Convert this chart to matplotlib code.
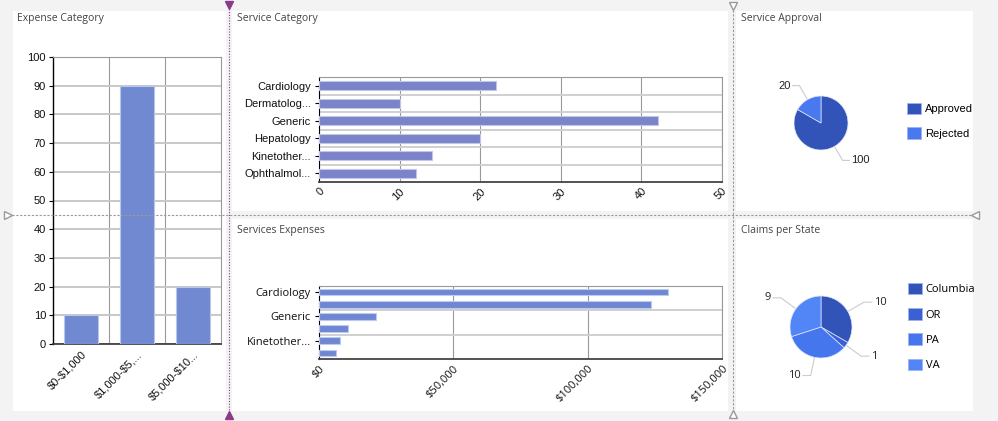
import matplotlib
matplotlib.use('Agg')
import matplotlib.pyplot as plt
from matplotlib.patches import Rectangle, Patch
from matplotlib.lines import Line2D
from matplotlib.ticker import FuncFormatter
import numpy as np

plt.rcParams['text.parse_math'] = False

# ---------------- data ----------------
expense_cats = ['$0-$1,000', '$1,000-$5,...', '$5,000-$10...']
expense_vals = [10, 90, 20]

service_cats = ['Cardiology', 'Dermatolog...', 'Generic', 'Hepatology', 'Kinetother...', 'Ophthalmol...']
service_vals = [22, 10, 42, 20, 14, 12]

spend_cats = ['Cardiology', 'Dermatolog...', 'Generic', 'Hepatology', 'Kinetother...', 'Ophthalmol...']
spend_vals = [130000, 123500, 21300, 10700, 7700, 6400]

approval_labels = ['Approved', 'Rejected']
approval_vals = [100, 20]
approval_colors = ['#3254b9', '#4a78ef']

state_labels = ['Columbia', 'OR', 'PA', 'VA']
state_vals = [10, 1, 10, 9]
state_colors = ['#3254b9', '#3a60d4', '#4676ee', '#5286f7']

W, H = 998, 421
SEGOE = ['Open Sans', 'DejaVu Sans']
ARIAL = ['Liberation Sans', 'DejaVu Sans']
FS = 8


def box(x0, y0, x1, y1):
    # pixel box (top-left origin) -> figure fraction
    return [x0 / W, 1 - y1 / H, (x1 - x0) / W, (y1 - y0) / H]


def fx(x):
    return x / W


def fy(y):
    return 1 - y / H


fig = plt.figure(figsize=(W / 100, H / 100), dpi=100, facecolor='#f3f3f3')

# panel backgrounds
for (x0, y0, x1, y1) in [(13, 11, 226, 411), (232, 11, 728, 211), (736, 11, 973, 211),
                         (232, 219, 728, 411), (736, 219, 973, 411)]:
    fig.add_artist(Rectangle((fx(x0), fy(y1)), (x1 - x0) / W, (y1 - y0) / H,
                             transform=fig.transFigure, facecolor='white', edgecolor='none', zorder=0))

# splitter lines
fig.add_artist(Line2D([fx(229), fx(229)], [fy(6), fy(414)], transform=fig.transFigure,
                      color='#8a3a8a', lw=0.8, ls=(0, (1, 1.5))))
fig.add_artist(Line2D([fx(733), fx(733)], [fy(6), fy(414)], transform=fig.transFigure,
                      color='#999999', lw=0.8, ls=(0, (2, 1.5))))
fig.add_artist(Line2D([fx(8), fx(975)], [fy(215), fy(215)], transform=fig.transFigure,
                      color='#999999', lw=0.8, ls=(0, (2, 1.5))))
fig.add_artist(Line2D([fx(229)], [fy(5)], transform=fig.transFigure, marker='v', ms=6,
                      color='#8a3a8a', lw=0))
fig.add_artist(Line2D([fx(229)], [fy(415)], transform=fig.transFigure, marker='^', ms=6,
                      color='#8a3a8a', lw=0))
fig.add_artist(Line2D([fx(733)], [fy(6)], transform=fig.transFigure, marker='v', ms=6,
                      mfc='white', mec='#999999', lw=0))
fig.add_artist(Line2D([fx(733)], [fy(414)], transform=fig.transFigure, marker='^', ms=6,
                      mfc='white', mec='#999999', lw=0))
fig.add_artist(Line2D([fx(8)], [fy(215)], transform=fig.transFigure, marker='>', ms=6,
                      mfc='white', mec='#999999', lw=0))
fig.add_artist(Line2D([fx(975)], [fy(215)], transform=fig.transFigure, marker='<', ms=6,
                      mfc='white', mec='#999999', lw=0))

# titles
for (x, y, t) in [(17, 19, 'Expense Category'), (237, 19, 'Service Category'),
                  (741, 19, 'Service Approval'), (237, 230, 'Services Expenses'),
                  (741, 230, 'Claims per State')]:
    fig.text(fx(x), fy(y), t, family=SEGOE, fontsize=7.5, color='#444444', va='center', ha='left')


def style_box(ax):
    for s in ['top', 'right']:
        ax.spines[s].set_color('#999999')
        ax.spines[s].set_linewidth(0.8)


# ---------------- Expense Category ----------------
ax1 = fig.add_axes(box(53, 57, 221, 344))
x = np.arange(len(expense_vals))
ax1.bar(x, expense_vals, width=0.6, color='#7189d0', edgecolor='#b9c5ea', lw=0.8, zorder=3)
ax1.set_xlim(-0.5, len(expense_vals) - 0.5)
ax1.set_ylim(0, 100)
ax1.set_yticks(range(0, 101, 10))
ax1.set_xticks(x)
ax1.set_xticklabels(expense_cats, rotation=45, ha='right', rotation_mode='anchor', family=ARIAL,
                    fontsize=FS, color='#111111')
ax1.set_xticks(x[:-1] + 0.5, minor=True)
ax1.grid(axis='y', which='major', color='#c8c8c8', lw=1.4, zorder=0)
ax1.grid(axis='x', which='minor', color='#999999', lw=0.8, zorder=0)
ax1.tick_params(axis='x', which='both', length=0, pad=4)
ax1.tick_params(axis='y', length=3, width=0.8, pad=2, labelsize=FS, labelcolor='#111111')
for lab in ax1.get_yticklabels():
    lab.set_family(ARIAL)
style_box(ax1)
ax1.spines['left'].set_linewidth(1.0)
ax1.spines['bottom'].set_linewidth(1.2)
ax1.spines['bottom'].set_color('#333333')

# ---------------- Service Category ----------------
ax2 = fig.add_axes(box(319, 77, 722, 182))
y = np.arange(len(service_vals))
ax2.barh(y, service_vals, height=0.5, color='#7b83c9', edgecolor='#c2c6ea', lw=0.8, zorder=3)
ax2.set_ylim(len(service_vals) - 0.5, -0.5)
ax2.set_xlim(0, 50)
ax2.set_yticks(y)
ax2.set_yticklabels(service_cats, family=ARIAL, fontsize=FS, color='#111111')
ax2.set_yticks(y[:-1] + 0.5, minor=True)
ax2.set_xticks(range(0, 51, 10))
ax2.set_xticklabels([str(v) for v in range(0, 51, 10)], rotation=45, ha='right',
                    rotation_mode='anchor', family=ARIAL, fontsize=FS, color='#111111')
ax2.grid(axis='y', which='minor', color='#d0d0d0', lw=1.4, zorder=0)
ax2.grid(axis='x', which='major', color='#999999', lw=0.8, zorder=0)
ax2.tick_params(axis='y', which='major', length=3, width=0.8, pad=3)
ax2.tick_params(axis='y', which='minor', length=0)
ax2.tick_params(axis='x', length=0, pad=3)
style_box(ax2)
ax2.spines['bottom'].set_linewidth(1.3)
ax2.spines['bottom'].set_color('#444444')

# ---------------- Services Expenses ----------------
ax4 = fig.add_axes(box(319, 286, 722, 359))
y4 = np.arange(len(spend_vals))
ax4.barh(y4, spend_vals, height=0.55, color='#6f87d3', edgecolor='#bccaf0', lw=0.8, zorder=3)
ax4.set_ylim(len(spend_vals) - 0.5, -0.5)
ax4.set_xlim(0, 150000)
ax4.set_yticks(y4[::2])
ax4.set_yticklabels(spend_cats[::2], family=SEGOE, fontsize=FS, color='#111111')
ax4.set_yticks([1.5, 3.5], minor=True)
ax4.set_xticks(range(0, 150001, 50000))
ax4.xaxis.set_major_formatter(FuncFormatter(lambda v, p: '${:,.0f}'.format(v)))
ax4.tick_params(axis='x', length=0, pad=3, labelsize=FS, labelrotation=45, labelcolor='#111111')
for lab in ax4.get_xticklabels():
    lab.set_family(SEGOE)
    lab.set_ha('right')
    lab.set_rotation_mode('anchor')
ax4.grid(axis='y', which='minor', color='#d0d0d0', lw=1.4, zorder=0)
ax4.grid(axis='x', which='major', color='#999999', lw=0.8, zorder=0)
ax4.tick_params(axis='y', which='major', length=3, width=0.8, pad=3)
ax4.tick_params(axis='y', which='minor', length=0)
style_box(ax4)
ax4.spines['bottom'].set_linewidth(1.3)
ax4.spines['bottom'].set_color('#444444')


# ---------------- pies ----------------
def pie_panel(rect, radius_px, vals, colors, labels, family, leg_x, leg_y):
    ax = fig.add_axes(box(*rect))
    half = (rect[2] - rect[0]) / 2 / radius_px
    wedges, _ = ax.pie(vals, colors=colors, startangle=90, counterclock=False,
                       wedgeprops=dict(edgecolor='#dfe6fb', linewidth=0.5))
    ax.set_xlim(-half, half)
    ax.set_ylim(-half, half)
    ax.set_aspect('equal')
    ax.axis('off')
    for w, v in zip(wedges, vals):
        ang = np.deg2rad((w.theta1 + w.theta2) / 2)
        c, s = np.cos(ang), np.sin(ang)
        x0, y0 = 1.03 * c, 1.03 * s
        x1, y1 = 1.6 * c, 1.6 * s
        d = 1 if c >= 0 else -1
        x2 = x1 + 0.25 * d
        ax.plot([x0, x1, x2], [y0, y1, y1], color='#cccccc', lw=0.8, clip_on=False)
        ax.text(x2 + 0.08 * d, y1, str(v), ha='left' if d > 0 else 'right', va='center',
                family=family, fontsize=FS, color='#222222')
    handles = [Patch(facecolor=col, edgecolor='#9fb3ee', lw=0.6) for col in colors]
    fig.legend(handles, labels, loc='upper left', bbox_to_anchor=(fx(leg_x), fy(leg_y)),
               bbox_transform=fig.transFigure, frameon=False, prop={'family': family, 'size': FS},
               handlelength=1.3, handleheight=1.2, labelspacing=1.15, handletextpad=0.3,
               borderaxespad=0, borderpad=0)


pie_panel((761, 63, 881, 183), 27, approval_vals, approval_colors, approval_labels, ARIAL, 907, 103)
pie_panel((761, 267, 881, 387), 31, state_vals, state_colors, state_labels, SEGOE, 908, 283)

fig.savefig('out.png', dpi=100, facecolor=fig.get_facecolor())
